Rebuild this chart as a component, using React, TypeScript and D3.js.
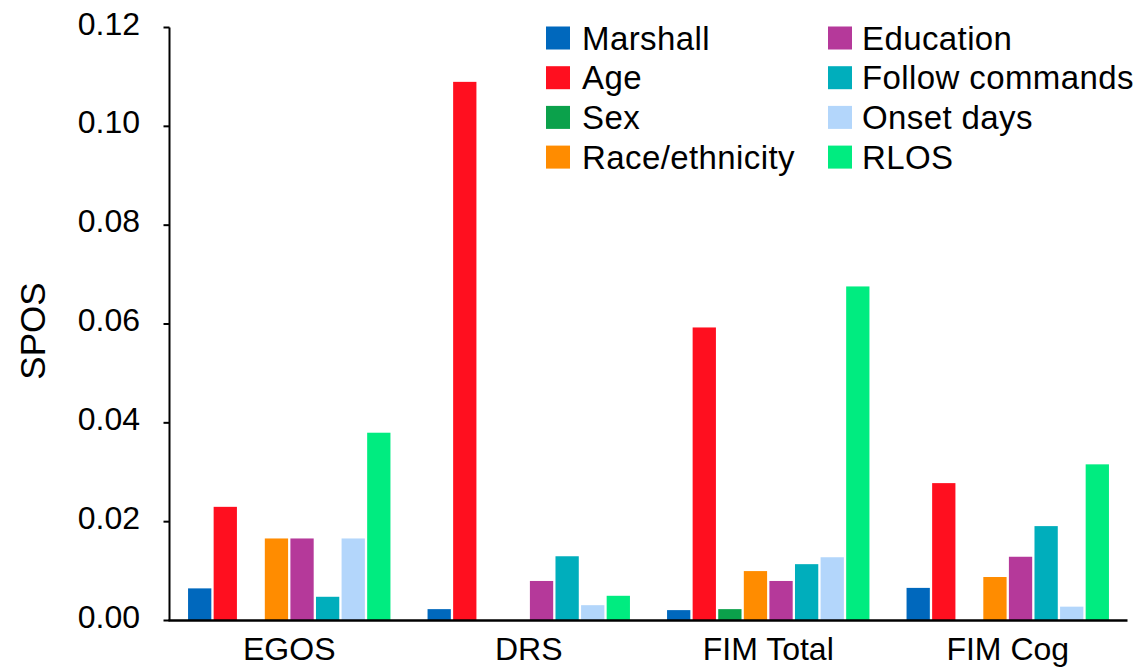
import React, { useEffect, useRef } from "react";
import * as d3 from "d3";

const categories = ["EGOS", "DRS", "FIM Total", "FIM Cog"];
const seriesNames = ["Marshall", "Age", "Sex", "Race/ethnicity", "Education", "Follow commands", "Onset days", "RLOS"];
const seriesColors = ["#0068BD", "#FF0F1F", "#0BA14B", "#FF8C00", "#B5399A", "#00AEBC", "#B3D6FB", "#00EC80"];
const marshall = [0.0065, 0.0023, 0.0021, 0.0066];
const age = [0.023, 0.109, 0.0593, 0.0278];
const sex = [0, 0, 0.0023, 0];
const race = [0.0166, 0, 0.010, 0.0088];
const education = [0.0166, 0.008, 0.008, 0.0129];
const followCommands = [0.0048, 0.013, 0.0114, 0.0191];
const onsetDays = [0.0166, 0.0031, 0.0128, 0.0028];
const rlos = [0.038, 0.005, 0.0676, 0.0316];
const yTicks = [0, 0.02, 0.04, 0.06, 0.08, 0.1, 0.12];

const W = 1145;
const H = 671;
const FONT = "Arial, 'Liberation Sans', sans-serif";

export default function App() {
  const ref = useRef<SVGSVGElement>(null);

  useEffect(() => {
    const svg = d3.select(ref.current);
    svg.selectAll("*").remove();

    const seriesValues = [marshall, age, sex, race, education, followCommands, onsetDays, rlos];

    const x0 = d3.scaleBand<string>().domain(categories).range([169.5, 1127.5]).padding(0);
    const x1 = d3
      .scaleBand<string>()
      .domain(seriesNames)
      .range([0, x0.bandwidth()])
      .paddingInner(0.09)
      .paddingOuter(0.725);
    const y = d3.scaleLinear().domain([0, 0.12]).range([620.5, 27.5]);

    // bars
    const g = svg.append("g");
    categories.forEach((cat, ci) => {
      seriesNames.forEach((s, si) => {
        const v = seriesValues[si][ci];
        if (v <= 0) return;
        g.append("rect")
          .attr("x", (x0(cat) ?? 0) + (x1(s) ?? 0))
          .attr("y", y(v))
          .attr("width", x1.bandwidth())
          .attr("height", y(0) - y(v))
          .attr("fill", seriesColors[si]);
      });
    });

    // y axis
    const axisX = 169.5;
    svg
      .append("line")
      .attr("x1", axisX)
      .attr("x2", axisX)
      .attr("y1", y(0.12))
      .attr("y2", y(0))
      .attr("stroke", "#000")
      .attr("stroke-width", 2);
    yTicks.forEach((t) => {
      svg
        .append("line")
        .attr("x1", axisX - 6)
        .attr("x2", axisX)
        .attr("y1", y(t))
        .attr("y2", y(t))
        .attr("stroke", "#000")
        .attr("stroke-width", 2);
      svg
        .append("text")
        .attr("x", 140)
        .attr("y", y(t) + 7)
        .attr("text-anchor", "end")
        .attr("font-family", FONT)
        .attr("font-size", 32)
        .attr("fill", "#000")
        .text(t.toFixed(2));
    });

    // x axis
    svg
      .append("line")
      .attr("x1", axisX - 1)
      .attr("x2", 1127.5)
      .attr("y1", y(0))
      .attr("y2", y(0))
      .attr("stroke", "#000")
      .attr("stroke-width", 2.5);
    categories.forEach((cat) => {
      svg
        .append("text")
        .attr("x", (x0(cat) ?? 0) + x0.bandwidth() / 2)
        .attr("y", 660)
        .attr("text-anchor", "middle")
        .attr("font-family", FONT)
        .attr("font-size", 32)
        .attr("fill", "#000")
        .text(cat);
    });

    // y label
    svg
      .append("text")
      .attr("transform", "translate(45,331) rotate(-90)")
      .attr("text-anchor", "middle")
      .attr("font-family", FONT)
      .attr("font-size", 35)
      .attr("fill", "#000")
      .text("SPOS");

    // legend
    const colX = [546, 828];
    const textX = [582, 862];
    seriesNames.forEach((s, i) => {
      const col = Math.floor(i / 4);
      const row = i % 4;
      const base = 49.5 + row * 39.7;
      svg
        .append("rect")
        .attr("x", colX[col])
        .attr("y", base - 23)
        .attr("width", 24)
        .attr("height", 23)
        .attr("fill", seriesColors[i]);
      svg
        .append("text")
        .attr("x", textX[col])
        .attr("y", base)
        .attr("font-family", FONT)
        .attr("font-size", 33)
        .attr("letter-spacing", 0.4)
        .attr("fill", "#000")
        .text(s);
    });
  }, []);

  return (
    <svg
      ref={ref}
      width={W}
      height={H}
      style={{ position: "fixed", left: 0, top: 0, background: "#fff", display: "block" }}
    />
  );
}
